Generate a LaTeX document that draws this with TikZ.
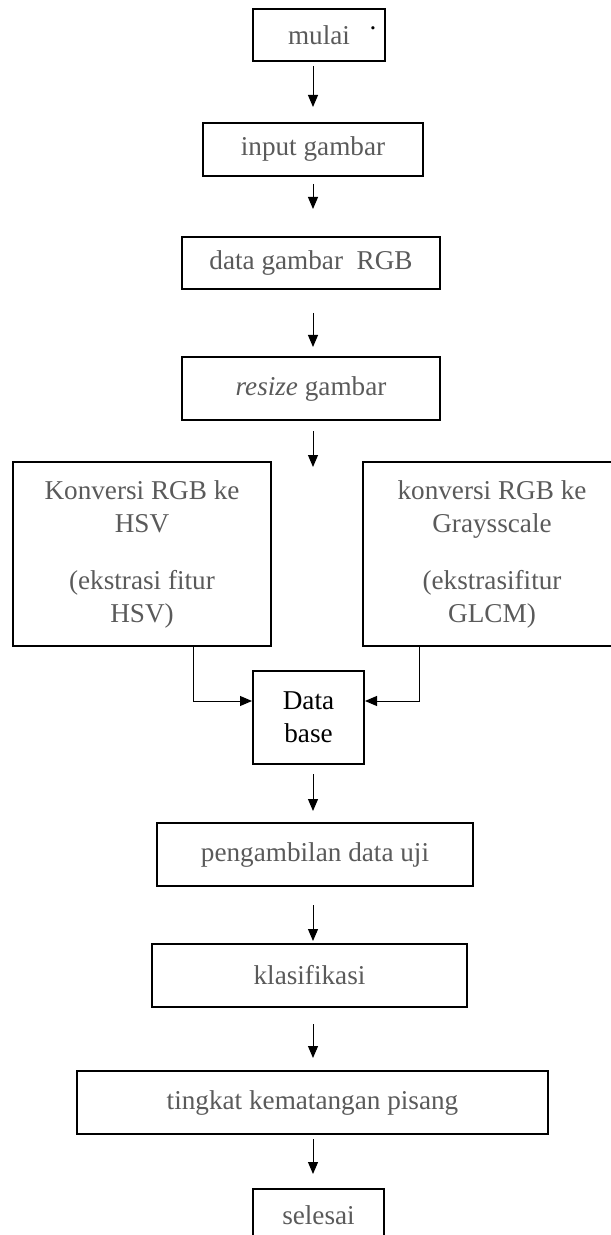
\documentclass[tikz,border=0pt]{standalone}
\usepackage{fontspec}
\setmainfont{Liberation Serif}
\usetikzlibrary{arrows.meta}

\definecolor{txtgray}{RGB}{90,90,90}

\tikzset{
	box/.style={draw, line width=1pt, text=txtgray, align=center, inner sep=0pt,
		font=\fontsize{13.6}{16.5}\selectfont},
	arr/.style={-{Triangle[length=6pt,width=5pt]}, line width=.5pt},
}

\begin{document}
\begin{tikzpicture}[x=.5pt,y=-.5pt]
		\useasboundingbox (0,0) rectangle (610,1235);
		\coordinate (spine) at (313,0);
		
		\node [box, minimum width=66pt, minimum height=26pt] (mulai) at (319,35) {mulai};
		\node [text=black, inner sep=0pt, font=\fontsize{13.6}{16}\selectfont] (titik) at (373,28) {.};
		\node [box, minimum width=110pt, minimum height=26.5pt] (input) at (313,149.5) {input gambar};
		\node [box, minimum width=129pt, minimum height=26pt] (rgb) at (311,263) {data gambar\ \ RGB};
		\node [box, minimum width=129pt, minimum height=31.5pt] (resize) at (311,388.5) {\textit{resize} gambar};
		\coordinate (cabang) at (313,467);
		
		% dua jalur ekstraksi fitur
		\node [box, minimum width=129pt, minimum height=92pt] (hsv) at (142,554)
			{Konversi RGB ke\\HSV\\[12pt](ekstrasi fitur\\HSV)};
		\node [box, minimum width=129pt, minimum height=92pt] (gray) at (492,554)
			{konversi RGB ke\\Graysscale\\[12pt](ekstrasifitur\\GLCM)};
		\node [box, text=black, minimum width=55.5pt, minimum height=46.5pt] (db) at (308.5,717.5) {Data\\base};
		
		\node [box, minimum width=158pt, minimum height=31.5pt] (ambil) at (315,854.5) {pengambilan data uji};
		\node [box, minimum width=157.5pt, minimum height=31.5pt] (klas) at (309.5,975.5) {klasifikasi};
		\node [box, minimum width=235.5pt, minimum height=31.5pt] (matang) at (312.5,1102.5) {tingkat kematangan pisang};
		\node [box, minimum width=65.5pt, minimum height=26pt] (selesai) at (318.5,1215) {selesai};
		
		\draw [arr, shorten <=2pt, shorten >=7.5pt] (mulai.south -| spine) -- (input.north -| spine);
		\draw [arr, shorten <=3.5pt, shorten >=13.5pt] (input.south -| spine) -- (rgb.north -| spine);
		\draw [arr, shorten <=11.5pt, shorten >=4.5pt] (rgb.south -| spine) -- (resize.north -| spine);
		\draw [arr, shorten <=5pt] (resize.south -| spine) -- (cabang);
		
		\draw [arr] ([xshift=25.5pt]hsv.south) |- ([yshift=8.25pt]db.west);
		\draw [arr] ([xshift=-36.5pt]gray.south) |- ([yshift=8.25pt]db.east);
		
		\draw [arr, shorten <=4.5pt, shorten >=5.5pt] (db.south -| spine) -- (ambil.north -| spine);
		\draw [arr, shorten <=9pt, shorten >=1pt] (ambil.south -| spine) -- (klas.north -| spine);
		\draw [arr, shorten <=8pt, shorten >=6pt] (klas.south -| spine) -- (matang.north -| spine);
		\draw [arr, shorten <=2pt, shorten >=7pt] (matang.south -| spine) -- (selesai.north -| spine);
\end{tikzpicture}
\end{document}
